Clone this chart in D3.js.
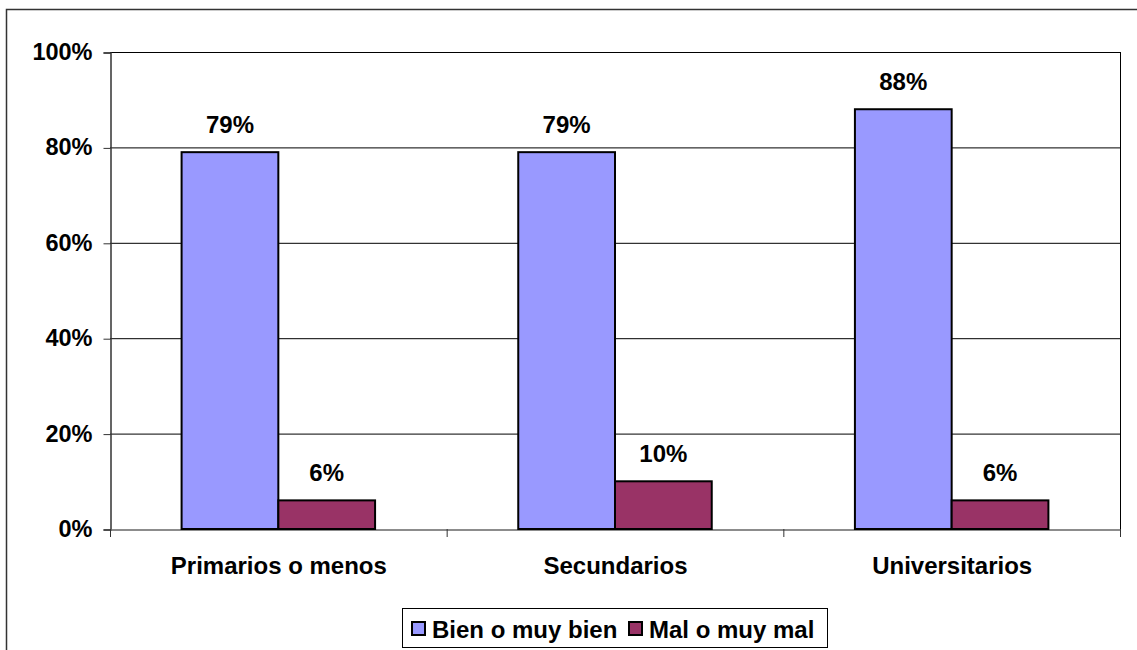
<!DOCTYPE html>
<html><head><meta charset="utf-8">
<script src="https://cdn.jsdelivr.net/npm/d3@7"></script>
<style>body{margin:0;background:#fff;}svg{display:block;font-family:Arial,"Liberation Sans",sans-serif;}</style>
</head><body>
<svg id="c" width="1137" height="650"></svg>
<script>
const categories = ["Primarios o menos", "Secundarios", "Universitarios"];
const seriesNames = ["Bien o muy bien", "Mal o muy mal"];
const bienValues = [79, 79, 88];
const malValues = [6, 10, 6];
const yTicks = [0, 20, 40, 60, 80, 100];
const colors = ["#9999FF", "#993366"];

const svg = d3.select("#c");
const m = {l:110, t:52, r:1120, b:529};
const FF = "Arial, 'Liberation Sans', sans-serif";

// outer border
svg.append("rect").attr("x",6.5).attr("y",9.5).attr("width",1140).attr("height",650)
  .attr("fill","#fff").attr("stroke","#333").attr("stroke-width",1.5);

const x = d3.scaleBand().domain(categories).range([m.l, m.r]);
const y = d3.scaleLinear().domain([0,100]).range([m.b, m.t]);
const xs = d3.scaleBand().domain(seriesNames).range([0, x.bandwidth()]).paddingInner(0).paddingOuter(0.74);

// gridlines
svg.append("g").selectAll("line").data(yTicks.filter(d=>d>0)).join("line")
  .attr("x1",m.l).attr("x2",m.r).attr("y1",d=>y(d)+0.5).attr("y2",d=>y(d)+0.5)
  .attr("stroke","#000").attr("stroke-width",1);
// right border
svg.append("line").attr("x1",m.r+0.5).attr("x2",m.r+0.5).attr("y1",m.t).attr("y2",m.b).attr("stroke","#000");

// y axis
const yAxis = d3.axisLeft(y).tickValues(yTicks).tickFormat(d=>d+"%").tickSize(7).tickPadding(11);
const gy = svg.append("g").attr("transform",`translate(${m.l+0.5},0.5)`).call(yAxis);
gy.select(".domain").attr("stroke","#333").attr("stroke-width",1.5);
gy.selectAll(".tick line").attr("stroke","#333");
gy.selectAll("text").attr("font-size",23.5).attr("font-weight","bold").attr("fill","#000").attr("font-family",FF).attr("dy","0.3em");

// x axis
const gx = svg.append("g").attr("transform",`translate(0.5,${m.b+0.5})`)
  .call(d3.axisBottom(x).tickSize(0).tickPadding(27));
gx.select(".domain").attr("stroke","#666").attr("stroke-width",1.5);
gx.selectAll("text").attr("font-size",24).attr("font-weight","bold").attr("fill","#000").attr("font-family",FF);
// category boundary ticks
const bounds = [m.l].concat(categories.map(c=>x(c)+x.bandwidth()));
svg.append("g").selectAll("line").data(bounds).join("line")
  .attr("x1",d=>d+0.5).attr("x2",d=>d+0.5).attr("y1",m.b).attr("y2",m.b+8).attr("stroke","#333");

const data = categories.map((c,i)=>({c, vals:[{s:seriesNames[0],v:bienValues[i],k:0},{s:seriesNames[1],v:malValues[i],k:1}]}));
const g = svg.append("g").selectAll("g").data(data).join("g").attr("transform",d=>`translate(${x(d.c)},0)`);
g.selectAll("rect").data(d=>d.vals).join("rect")
  .attr("x",d=>xs(d.s)).attr("width",xs.bandwidth())
  .attr("y",d=>y(d.v)).attr("height",d=>m.b-y(d.v))
  .attr("fill",d=>colors[d.k]).attr("stroke","#000").attr("stroke-width",2);
g.selectAll("text").data(d=>d.vals).join("text")
  .attr("x",d=>xs(d.s)+xs.bandwidth()/2).attr("y",d=>y(d.v)-19)
  .attr("text-anchor","middle").attr("font-size",24).attr("font-weight","bold").text(d=>d.v+"%");

// legend
const lg = svg.append("g");
lg.append("rect").attr("x",402.5).attr("y",608.5).attr("width",425).attr("height",39)
  .attr("fill","#fff").attr("stroke","#000").attr("stroke-width",1);
const items = [{n:seriesNames[0],c:colors[0],x:411},{n:seriesNames[1],c:colors[1],x:628}];
items.forEach(it=>{
  lg.append("rect").attr("x",it.x+1).attr("y",622).attr("width",13).attr("height",13)
    .attr("fill",it.c).attr("stroke","#000").attr("stroke-width",2);
  lg.append("text").attr("x",it.x+21).attr("y",638).attr("font-size",24).attr("font-weight","bold").text(it.n);
});
</script>
</body></html>
